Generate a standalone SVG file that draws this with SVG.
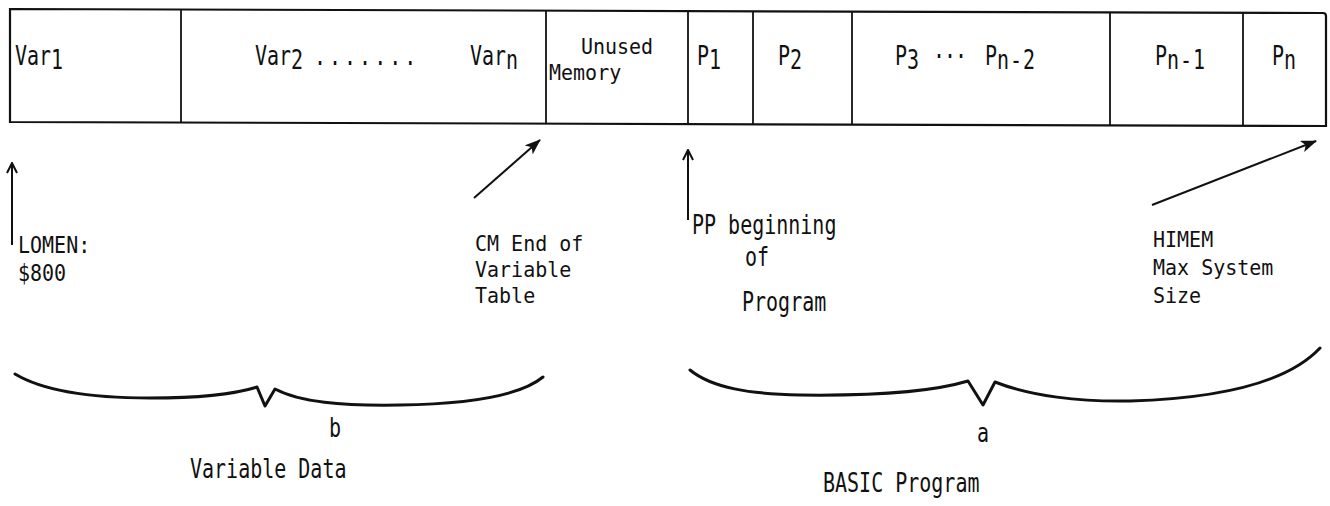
<svg xmlns="http://www.w3.org/2000/svg" width="1330" height="506" viewBox="0 0 1330 506">
<style>
  .t { font-family: "DejaVu Sans Mono", "Liberation Mono", monospace; font-size: 20px; fill: #111; }
  .box { fill: none; stroke: #111; stroke-width: 2.2; }
  .div { stroke: #111; stroke-width: 1.8; }
  .arr { stroke: #111; stroke-width: 2; fill: none; }
  .brace { stroke: #111; stroke-width: 3; fill: none; stroke-linejoin: round; stroke-linecap: round; }
</style>
<defs>
  <marker id="open" viewBox="0 0 12 12" refX="11" refY="6" markerWidth="12" markerHeight="12" markerUnits="userSpaceOnUse" orient="auto">
    <path d="M1,1 L11,6 L1,11" fill="none" stroke="#111" stroke-width="2"/>
  </marker>
  <marker id="solid" viewBox="0 0 16 12" refX="15" refY="6" markerWidth="16" markerHeight="12" markerUnits="userSpaceOnUse" orient="auto">
    <path d="M0,0 L16,6 L0,12 L4,6 Z" fill="#111"/>
  </marker>
</defs>

<g id="memory-bar">
  <path class="box" d="M10,9 L1323,13 Q1326,13 1326,16 L1326,126 L10,122 Z"/>
  <line class="div" x1="181" y1="10" x2="181" y2="122"/>
  <line class="div" x1="546" y1="11" x2="546" y2="123"/>
  <line class="div" x1="688" y1="11" x2="688" y2="124"/>
  <line class="div" x1="753" y1="12" x2="753" y2="124"/>
  <line class="div" x1="852" y1="12" x2="852" y2="124"/>
  <line class="div" x1="1110" y1="12" x2="1110" y2="125"/>
  <line class="div" x1="1243" y1="13" x2="1243" y2="125"/>
</g>

<g id="cell-var1"><text class="t" transform="translate(15,65) scale(1,1.3)">Var<tspan dy="3">1</tspan></text></g>
<g id="cell-var2-varn">
  <text class="t" transform="translate(255,65) scale(1,1.3)">Var<tspan dy="3">2</tspan></text>
  <text class="t" transform="translate(314,65) scale(1,1.3)" letter-spacing="3">.......</text>
  <text class="t" transform="translate(470,65) scale(1,1.3)">Var<tspan dy="3">n</tspan></text>
</g>
<g id="cell-unused">
  <text class="t" transform="translate(617,54) scale(1,1.1)" text-anchor="middle">Unused</text>
  <text class="t" transform="translate(549,80) scale(1,1.1)">Memory</text>
</g>
<g id="cell-p1"><text class="t" transform="translate(697,65) scale(1,1.3)">P<tspan dy="3">1</tspan></text></g>
<g id="cell-p2"><text class="t" transform="translate(778,65) scale(1,1.3)">P<tspan dy="3">2</tspan></text></g>
<g id="cell-p3">
  <text class="t" transform="translate(895,65) scale(1,1.3)">P<tspan dy="3">3</tspan></text>
  <text class="t" transform="translate(933,58) scale(1,1.3)" letter-spacing="-1">...</text>
  <text class="t" transform="translate(985,65) scale(1,1.3)">P<tspan dy="3" letter-spacing="1">n-2</tspan></text>
</g>
<g id="cell-pn1"><text class="t" transform="translate(1155,65) scale(1,1.3)">P<tspan dy="3" letter-spacing="1">n-1</tspan></text></g>
<g id="cell-pn"><text class="t" transform="translate(1272,65) scale(1,1.3)">P<tspan dy="3">n</tspan></text></g>

<g id="connectors">
  <line class="arr" x1="12" y1="245" x2="12" y2="163" marker-end="url(#open)"/>
  <line class="arr" x1="474" y1="198" x2="540" y2="140" marker-end="url(#solid)"/>
  <line class="arr" x1="688" y1="220" x2="688" y2="150" marker-end="url(#open)"/>
  <line class="arr" x1="1152" y1="205" x2="1316" y2="141" marker-end="url(#solid)" stroke-width="2.5"/>
</g>

<g id="label-lomen">
  <text class="t" transform="translate(18,253) scale(1,1.15)">LOMEN:</text>
  <text class="t" transform="translate(18,281) scale(1,1.15)">$800</text>
</g>
<g id="label-cm">
  <text class="t" transform="translate(475,251) scale(1,1.05)">CM End of</text>
  <text class="t" transform="translate(475,277) scale(1,1.05)">Variable</text>
  <text class="t" transform="translate(475,303) scale(1,1.05)">Table</text>
</g>
<g id="label-pp">
  <text class="t" transform="translate(692,234) scale(1,1.3)">PP beginning</text>
  <text class="t" transform="translate(745,266) scale(1,1.3)">of</text>
  <text class="t" transform="translate(742,311) scale(1,1.3)">Program</text>
</g>
<g id="label-himem">
  <text class="t" transform="translate(1153,247) scale(1,1.05)">HIMEM</text>
  <text class="t" transform="translate(1153,275) scale(1,1.05)">Max System</text>
  <text class="t" transform="translate(1153,303) scale(1,1.05)">Size</text>
</g>

<g id="brace-b">
  <path class="brace" d="M15,374 C45,392 95,398 150,398 C205,398 235,394 257,387 L265,406 L275,389 C300,402 340,406 400,405 C470,404 520,396 543,377"/>
  <text class="t" transform="translate(329,437) scale(1,1.3)">b</text>
  <text class="t" transform="translate(190,478) scale(1,1.3)">Variable Data</text>
</g>
<g id="brace-a">
  <path class="brace" d="M690,370 C712,388 750,394 800,395 C880,396 935,391 968,381 L983,405 L995,382 C1030,396 1080,402 1130,401 C1230,398 1290,380 1320,348"/>
  <text class="t" transform="translate(977,442) scale(1,1.3)">a</text>
  <text class="t" transform="translate(823,492) scale(1,1.3)">BASIC Program</text>
</g>
</svg>
